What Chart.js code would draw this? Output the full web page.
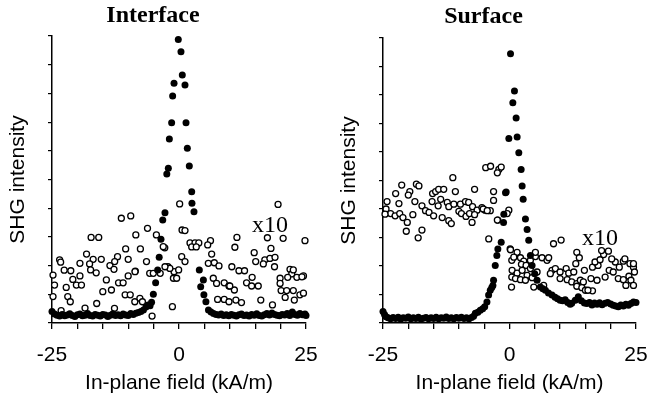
<!DOCTYPE html>
<html>
<head>
<meta charset="utf-8">
<script src="https://cdn.jsdelivr.net/npm/chart.js@4.4.0/dist/chart.umd.min.js"></script>
<style>
    body { margin: 0; background: #fff; width: 649px; height: 396px; overflow: hidden; position: relative; }
    canvas { position: absolute; top: 0; }
    #interfaceChart { left: 0; }
    #surfaceChart { left: 325px; }
</style>
</head>
<body>
<canvas id="interfaceChart" width="325" height="396"></canvas>
<canvas id="surfaceChart" width="330" height="396"></canvas>
<script>
// x tick labels shown on the field axis
const xTickLabels = [-25, 0, 25];

// Interface: full-scale SHG (filled) [field kA/m, intensity]
const interfaceFull = [
    [-25,0.40],[-24.5,0.31],[-24,0.27],[-23.5,0.24],[-23,0.30],[-22.5,0.25],[-22,0.28],[-21.5,0.32],
    [-21,0.26],[-20.5,0.23],[-20,0.29],[-19.5,0.31],[-19,0.25],[-18.5,0.27],[-18,0.33],[-17.5,0.26],
    [-17,0.24],[-16.5,0.30],[-16,0.27],[-15.5,0.24],[-15,0.30],[-14.5,0.28],[-14,0.23],[-13.5,0.27],
    [-13,0.32],[-12.5,0.26],[-12,0.29],[-11.5,0.25],[-11,0.31],[-10.5,0.28],[-10,0.26],[-9.5,0.33],
    [-9,0.30],[-8.5,0.34],[-8,0.37],[-7.5,0.40],[-7,0.45],[-6.5,0.56],[-6.1,0.63],[-5.7,0.60],
    [-5.4,0.72],[-5.05,1.00],[-4.6,1.40],[-4.2,1.85],[-3.9,2.29],[-3.55,2.92],[-3.2,3.59],[-2.76,3.84],
    [-2.4,5.19],[-2.1,5.39],[-1.9,6.41],[-1.45,6.98],[-1.25,7.91],[-0.98,8.35],[-0.14,9.88],[0.39,9.45],
    [0.65,8.64],[1.18,8.29],[1.38,6.98],[1.64,6.09],[2.03,5.47],[2.5,4.57],[2.55,4.17],[2.95,3.88],
    [4.0,1.85],[4.27,1.26],[4.8,1.50],[4.9,0.98],[5.3,0.74],[5.8,0.45],[6.3,0.38],[6.8,0.33],
    [7.3,0.30],[7.8,0.28],[8.3,0.31],[8.8,0.26],[9.3,0.29],[9.8,0.25],[10.3,0.30],[10.8,0.27],
    [11.3,0.24],[11.8,0.29],[12.3,0.31],[12.8,0.26],[13.3,0.28],[13.8,0.24],[14.3,0.30],[14.8,0.27],
    [15.3,0.32],[15.8,0.26],[16.3,0.24],[16.8,0.29],[17.3,0.33],[17.8,0.28],[18.3,0.35],[18.8,0.30],
    [19.3,0.27],[19.8,0.25],[20.3,0.30],[20.8,0.28],[21.3,0.33],[21.8,0.26],[22.3,0.38],[22.8,0.30],
    [23.3,0.27],[23.8,0.33],[24.3,0.29],[24.8,0.31],[25,0.26]
];

// Interface: x10 magnified SHG (open)
const interfaceX10 = [
    [0.13,4.15],[-11.35,3.65],[-9.5,3.73],[-17.3,2.98],[-15.8,2.98],[-8.5,3.07],[-6.2,3.3],[-4.45,3.07],
    [-10.5,2.58],[-7.6,2.58],[-2.8,2.62],[-3.1,2.66],[-18.2,2.4],[-23.5,2.2],[-23.3,2.12],[-16.9,2.22],
    [-15.3,2.22],[-12.1,2.31],[-10,2.22],[-6.4,2.14],[-13.6,2.0],[-12.66,2.14],[-17.6,2.06],[-19.5,2.08],
    [-22.6,1.84],[-21.3,1.82],[-17.4,1.85],[-16.3,1.75],[-12.8,1.87],[-8.6,1.81],[-5.77,1.73],[-2.17,1.96],
    [-0.98,1.79],[-0.07,1.85],[-24.8,1.67],[-20.9,1.52],[-19.5,1.64],[-20.2,1.32],[-19.2,1.32],[-14.3,1.5],
    [-11.9,1.4],[-11,1.4],[-10,1.64],[-24.5,1.32],[-22.2,1.24],[-15,1.09],[-13.3,1.15],[-10.6,0.98],
    [-9.6,0.98],[-8.7,0.74],[-7.7,0.86],[-7.2,0.74],[-24.8,0.92],[-21.9,0.92],[-21.4,0.74],[-16.2,0.68],
    [-12.7,0.51],[-23.2,0.43],[-18.5,0.52],[-5.3,0.24],[-1.3,0.57],[0.6,3.24],[-3.7,1.73],[-5.06,1.73],
    [-1.8,1.9],[-1.1,1.56],[-2.76,1.96],[0.53,2.31],[-8.66,1.79],
    [19.5,4.13],[1.18,3.22],[2.17,2.79],[3.15,2.79],[3.9,2.79],[2.5,2.65],[3.4,2.65],[6.2,2.87],
    [5.65,2.72],[11.4,2.98],[17.4,2.97],[20.5,2.95],[24.8,2.87],[11,2.64],[18.1,2.6],[6.43,2.4],
    [14.8,2.45],[1.18,2.14],[15.1,2.14],[16.9,2.2],[17.9,2.25],[18.9,2.29],[16.6,2.06],[18.8,1.96],
    [5.77,2.08],[6.95,2.1],[7.87,1.99],[10.4,1.96],[11.8,1.82],[12.9,1.82],[-0.46,1.56],[21.85,1.87],
    [22.2,1.71],[23.2,1.59],[24.5,1.64],[19.9,1.56],[21.4,1.59],[6.75,1.56],[8.9,1.4],[9.84,1.29],
    [10.9,1.15],[13.3,1.4],[14.3,1.29],[15.6,1.29],[14.4,1.59],[20.1,1.13],[21.2,1.13],[22.5,1.13],
    [23.8,0.98],[20.9,0.89],[22.7,0.8],[7.6,0.82],[8.9,0.82],[9.84,0.74],[11.2,0.8],[12.3,0.71],
    [16.1,0.8],[18.4,0.63],[24.5,1.04],[24.2,1.61],[22.5,1.85],[19.9,1.38],[7.4,1.38],[10,1.29]
];

// Surface: full-scale SHG (filled)
const surfaceFull = [
    [-25,0.40],[-24.7,0.30],[-24.4,0.22],[-24,0.18],[-23.5,0.15],[-23,0.19],[-22.5,0.16],[-22,0.20],
    [-21.5,0.14],[-21,0.18],[-20.5,0.17],[-20,0.21],[-19.5,0.15],[-19,0.18],[-18.5,0.16],[-18,0.20],
    [-17.5,0.14],[-17,0.17],[-16.5,0.19],[-16,0.15],[-15.5,0.18],[-15,0.16],[-14.5,0.20],[-14,0.15],
    [-13.5,0.18],[-13,0.17],[-12.5,0.21],[-12,0.16],[-11.5,0.18],[-11,0.15],[-10.5,0.19],[-10,0.17],
    [-9.5,0.20],[-9,0.16],[-8.5,0.18],[-8,0.15],[-7.5,0.19],[-7.1,0.24],[-6.75,0.34],[-6.25,0.38],
    [-5.77,0.45],[-5.3,0.50],[-4.9,0.57],[-4.46,0.74],[-4.13,0.98],[-3.8,1.15],[-3.5,1.25],[-3.28,1.32],
    [-3.15,1.50],[-2.82,2.02],[-2.5,2.37],[-2.3,2.60],[-1.64,2.83],[-1.18,3.53],[-1.12,3.82],[-0.79,4.57],
    [-0.66,4.60],[-0.13,6.47],[0.2,9.45],[0.66,7.73],[0.98,8.14],[1.31,7.19],[1.51,6.53],[1.84,5.97],
    [2.3,5.39],[2.5,4.81],[2.7,4.34],[3.15,3.65],[3.48,3.28],[3.8,2.90],[4.13,2.37],[4.46,2.02],
    [4.98,1.73],[5.45,1.50],[6.1,1.26],[6.6,1.20],[7.1,1.15],[7.7,1.05],[8.4,0.98],[9.0,0.90],
    [9.5,0.85],[10,0.80],[10.5,0.78],[11,0.82],[11.5,0.72],[12,0.66],[12.3,0.69],[13,0.80],
    [13.6,0.92],[14.2,0.78],[14.8,0.70],[15.3,0.68],[15.8,0.72],[16.3,0.63],[16.8,0.70],[17.3,0.66],
    [17.8,0.71],[18.3,0.64],[18.9,0.69],[19.4,0.72],[20,0.67],[20.5,0.62],[21,0.60],[21.5,0.57],
    [22,0.63],[22.5,0.60],[23,0.66],[23.5,0.62],[24,0.68],[24.5,0.74],[25,0.72]
];

// Surface: x10 magnified SHG (open)
const surfaceX10 = [
    [-11.2,5.1],[-21.3,4.84],[-18.4,4.87],[-17.9,4.81],[-22.5,4.54],[-19.7,4.61],[-20,4.49],[-15.2,4.54],
    [-14.6,4.61],[-14,4.69],[-13,4.69],[-10.7,4.61],[-6.9,4.69],[-3.15,4.61],[-24.2,4.26],[-21.85,4.19],
    [-18.7,4.26],[-17.3,4.11],[-15.3,4.26],[-13.6,4.34],[-12.3,4.23],[-9.7,4.17],[-8.7,4.26],[-8.07,4.23],
    [-3.15,4.3],[-16.6,3.94],[-15.9,3.88],[-14.1,4.11],[-12,4.08],[-11,4.17],[-7.3,4.08],[-6.4,3.96],
    [-5.45,4.05],[-4.8,3.96],[-3.8,3.94],[-24.4,4.0],[-23.5,3.84],[-22.6,3.76],[-21.7,3.84],[-21.06,3.7],
    [-20.2,3.53],[-19.1,3.8],[-15,3.76],[-13.3,3.7],[-12,3.59],[-11.5,3.49],[-10,3.92],[-9.5,3.84],
    [-8.6,3.74],[-7.9,3.84],[-6.9,3.8],[-7.4,3.53],[-2.3,3.61],[-20.4,3.22],[-18.05,2.99],[-17.3,3.26],
    [-4.1,2.95],[0.13,2.6],[0.45,2.2],[0.45,1.61],[-0.13,3.96],[-0.46,3.84],[-24.6,3.82],
    [-4.7,5.45],[-3.74,5.5],[-2.1,5.39],[-1.64,5.47],[-2.4,5.27],[-2.4,3.61],[-5.2,4.0],[-4.4,3.94],
    [8.7,2.78],[10.2,2.91],[0.2,2.57],[1.5,2.48],[0.85,2.31],[2.17,2.29],[2.82,2.17],[2.36,2.06],
    [3.28,2.02],[4.13,2.2],[5.12,2.33],[6.43,2.29],[7.42,2.2],[7.74,2.29],[5.12,2.48],[0.52,1.85],
    [1.5,1.75],[2.5,1.85],[3.48,1.67],[4.13,1.91],[5.45,1.79],[1.18,1.56],[2.17,1.52],[3.15,1.5],
    [4.47,1.59],[8.4,1.85],[9.06,1.91],[10,1.79],[11.2,1.91],[11.7,1.75],[12.7,1.79],[10,1.56],
    [11.4,1.52],[12.3,1.44],[13.3,1.38],[14,1.5],[14.6,1.44],[13.3,1.29],[14.3,1.24],[16.4,1.13],
    [15,1.15],[15.5,1.15],[13.3,2.48],[13.8,2.29],[13.1,2.08],[14.8,1.85],[16.4,1.96],[17.5,2.02],
    [16.9,2.14],[17.9,2.22],[18.6,2.4],[18.2,2.54],[16.1,1.56],[17.3,1.5],[18.9,1.61],[19.7,1.85],
    [20.5,1.79],[20.9,2.14],[20.2,2.25],[21.7,1.96],[22.5,2.17],[23.8,2.08],[24.5,1.96],[24.7,1.79],
    [21.5,1.56],[22.5,1.52],[23.6,1.64],[24,1.5],[23,1.32],[24.5,1.32],[19.55,2.52],[22.8,2.25],
    [24.5,2.08],[0.4,1.26],[4.8,1.26],[6.75,1.32],[8.07,1.73]
];

const sansFont = '"Liberation Sans", Arial, sans-serif';
const serifFont = '"Liberation Serif", "Times New Roman", serif';

// draws the "x10" note at a data position
const x10Label = {
    id: 'x10Label',
    afterDatasetsDraw(chart, args, opts) {
        const { ctx, scales: { x, y } } = chart;
        ctx.save();
        ctx.font = '24px ' + serifFont;
        ctx.fillStyle = '#000';
        ctx.textAlign = 'center';
        ctx.textBaseline = 'middle';
        ctx.fillText(opts.text, x.getPixelForValue(opts.x), y.getPixelForValue(opts.y));
        ctx.restore();
    }
};

function toPoints(pairs) {
    return pairs.map(p => ({ x: p[0], y: p[1] }));
}

function makePanel(canvasId, title, full, x10, noteAt, pad) {
    new Chart(document.getElementById(canvasId), {
        type: 'scatter',
        data: {
            datasets: [
                {
                    data: toPoints(full),
                    pointRadius: 3.5,
                    pointBackgroundColor: '#000',
                    pointBorderColor: '#000',
                    pointBorderWidth: 0,
                    clip: false
                },
                {
                    data: toPoints(x10),
                    pointRadius: 3,
                    pointBackgroundColor: '#fff',
                    pointBorderColor: '#000',
                    pointBorderWidth: 1.3,
                    clip: false
                }
            ]
        },
        options: {
            responsive: false,
            animation: false,
            events: [],
            layout: { padding: { left: pad.left, right: pad.right, top: 0, bottom: 0 } },
            plugins: {
                legend: { display: false },
                tooltip: { enabled: false },
                title: {
                    display: true,
                    text: title,
                    color: '#000',
                    font: { family: serifFont, size: 24, weight: 'bold', lineHeight: 1.2 },
                    padding: { top: pad.titleTop, bottom: pad.titleBottom }
                },
                x10Label: { text: 'x10', x: noteAt[0], y: noteAt[1] }
            },
            scales: {
                x: {
                    type: 'linear',
                    min: -25,
                    max: 25,
                    border: { display: true, color: '#000', width: 1.5 },
                    grid: { drawOnChartArea: false, drawTicks: true, tickLength: 6, color: '#000', lineWidth: 1.3 },
                    ticks: {
                        stepSize: 5,
                        autoSkip: false,
                        maxRotation: 0,
                        padding: 3,
                        color: '#000',
                        font: { family: sansFont, size: 21, lineHeight: '45.6px' },
                        callback: v => xTickLabels.includes(v) ? String(v) : ''
                    },
                    title: {
                        display: true,
                        text: 'In-plane field (kA/m)',
                        color: '#000',
                        font: { family: sansFont, size: 21, lineHeight: 1.2 },
                        padding: { top: -10.3, bottom: 0.5 }
                    }
                },
                y: {
                    type: 'linear',
                    min: 0,
                    max: 10,
                    border: { display: true, color: '#000', width: 1.5 },
                    grid: { drawOnChartArea: false, drawTicks: true, tickLength: 4, color: '#000', lineWidth: 1.2 },
                    ticks: { stepSize: 1, display: false },
                    title: {
                        display: true,
                        text: 'SHG intensity',
                        color: '#000',
                        font: { family: sansFont, size: 21, lineHeight: 1.2 },
                        padding: { top: 5.4, bottom: 17.4 }
                    }
                }
            }
        },
        plugins: [x10Label]
    });
}

makePanel('interfaceChart', 'Interface', interfaceFull, interfaceX10, [17.9, 3.38],
    { left: 0, right: 19, titleTop: 1.6, titleBottom: 5.6 });
makePanel('surfaceChart', 'Surface', surfaceFull, surfaceX10, [17.9, 2.96],
    { left: 6, right: 19, titleTop: 2.6, titleBottom: 6.6 });
</script>
</body>
</html>
